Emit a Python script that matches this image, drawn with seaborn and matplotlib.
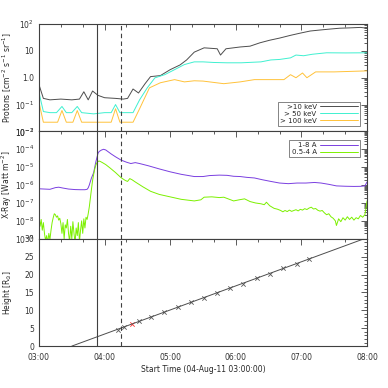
import numpy as np
import pandas as pd
import matplotlib
matplotlib.use('Agg')
import matplotlib.pyplot as plt
import matplotlib.dates as mdates
from matplotlib.ticker import LogLocator, FixedLocator, FixedFormatter, MultipleLocator, NullFormatter
import seaborn as sns

# ---- data (minutes after 04-Aug-11 03:00) ----
p10_min = [0, 4, 10, 20, 30, 37, 41, 45, 49, 54, 60, 70, 77, 81, 86, 91, 97, 102, 111, 120,
           129, 135, 142, 151, 157, 163, 166, 171, 184, 193, 202, 211, 220, 230, 239, 248,
           257, 266, 275, 284, 294, 300]
p10_val = [0.55, 0.17, 0.15, 0.16, 0.15, 0.16, 0.3, 0.15, 0.32, 0.22, 0.18, 0.17, 0.16, 0.17,
           0.38, 0.27, 0.6, 1.1, 1.2, 2.0, 3.0, 4.6, 9, 13, 12.5, 12, 7, 12, 14, 15, 20, 25,
           30, 38, 46, 55, 60, 65, 70, 72, 75, 70]

p50_min = [0, 4, 10, 16, 21, 25, 30, 35, 39, 50, 60, 66, 70, 74, 80, 86, 92, 99, 106, 115,
           124, 133, 142, 150, 160, 172, 185, 203, 212, 220, 230, 235, 242, 250, 263, 280, 300]
p50_val = [0.28, 0.055, 0.05, 0.05, 0.085, 0.05, 0.05, 0.085, 0.05, 0.045, 0.05, 0.05, 0.1,
           0.05, 0.05, 0.05, 0.15, 0.42, 0.99, 1.3, 2.0, 3.1, 3.9, 3.9, 3.7, 3.6, 3.6, 3.9,
           4.6, 4.8, 5.5, 7, 6.6, 7.5, 8.5, 8.4, 8.5]

p100_min = [0, 4, 10, 17, 21, 25, 31, 35, 39, 50, 60, 66, 70, 74, 80, 86, 92, 101, 111, 124,
            133, 142, 150, 169, 184, 197, 206, 224, 230, 235, 241, 245, 253, 270, 300]
p100_val = [0.12, 0.022, 0.022, 0.022, 0.06, 0.022, 0.022, 0.06, 0.022, 0.022, 0.022, 0.022,
            0.07, 0.022, 0.022, 0.022, 0.07, 0.42, 0.65, 0.85, 0.7, 0.77, 0.75, 0.6, 0.7,
            0.85, 0.85, 0.85, 1.3, 1.0, 1.5, 1.0, 1.65, 1.65, 1.8]

long_min = [0, 5, 10, 15, 18, 22, 27, 33, 38, 42, 44, 45, 46, 47, 48, 49, 50, 51, 52, 53, 54,
            55, 57, 59, 61, 63, 66, 70, 75, 80, 84, 88, 92, 100, 110, 120, 130, 142, 150, 156,
            165, 172, 178, 184, 190, 197, 204, 212, 220, 228, 236, 244, 252, 258, 265, 272,
            280, 288, 294, 298, 300]
long_val = [6.2e-7, 6e-7, 5.8e-7, 7.2e-7, 7.6e-7, 6.8e-7, 6e-7, 5.6e-7, 5.5e-7, 5.5e-7,
            5.8e-7, 7e-7, 1e-6, 1.6e-6, 2.5e-6, 3.5e-6, 5e-6, 1e-5, 2e-5, 3.5e-5, 6e-5, 7.5e-5,
            9e-5, 1e-4, 9.2e-5, 7.5e-5, 5.5e-5, 3.8e-5, 2.5e-5, 1.9e-5, 1.6e-5, 1.8e-5, 1.6e-5,
            1.2e-5, 8e-6, 5.5e-6, 4e-6, 3e-6, 3e-6, 3.4e-6, 3.6e-6, 3.5e-6, 3.1e-6, 3e-6,
            2.7e-6, 2.5e-6, 2e-6, 1.6e-6, 1.3e-6, 1.2e-6, 1.3e-6, 1.3e-6, 1.4e-6, 1.3e-6,
            1.1e-6, 9e-7, 8.6e-7, 8.4e-7, 8.5e-7, 9e-7, 1.5e-6]

short_min = list(range(0, 57)) + [58, 61, 65, 70, 75, 79, 81, 83, 85, 88, 95, 102, 110, 120,
            130, 142, 148, 151, 158, 165, 169, 174, 178, 183, 188, 193, 198, 203, 206, 208,
            211, 215, 218, 221, 223, 225, 227, 229, 231, 233, 235, 237, 239, 241, 243, 245,
            247, 249, 251, 253, 255, 257, 259, 261, 263, 265, 267, 269, 271, 272, 274, 276,
            278, 280, 282, 284, 286, 288, 290, 292, 294, 296, 298, 299, 300]
short_val = [1.5e-8, 5e-9, 1.2e-8, 3e-9, 8e-9, 2e-9, 8e-10, 1.5e-9, 6e-10, 2e-9, 9e-10, 3e-9,
             8e-9, 1.5e-8, 2.5e-8, 2.2e-8, 1.6e-8, 1.9e-8, 1.1e-8, 1.4e-8, 7e-9, 2e-9, 8e-9,
             1e-9, 6e-9, 4e-9, 1.2e-8, 2e-9, 7e-10, 5e-9, 1e-9, 9e-9, 2e-9, 6e-10, 4e-9,
             1.5e-9, 8e-9, 7e-10, 3e-9, 1e-8, 2e-9, 1.3e-8, 4e-9, 1.6e-8, 1.2e-8, 2.5e-8, 6e-8,
             2e-7, 6e-7, 1.8e-6, 4e-6, 8e-6, 1.3e-5, 1.8e-5, 2.1e-5, 2.2e-5, 2.1e-5,
             1.8e-5, 1.4e-5, 9e-6, 5e-6, 2.6e-6, 1.8e-6, 1.6e-6, 2.3e-6, 2e-6, 1.5e-6, 8e-7,
             4.5e-7, 3e-7, 2.2e-7, 1.6e-7, 1.3e-7, 1.5e-7, 2.1e-7, 2.2e-7, 2.0e-7, 2.1e-7,
             1.6e-7, 1.3e-7, 1.5e-7, 1.7e-7, 1.2e-7, 1.0e-7, 9e-8, 8e-8, 1.1e-7, 7e-8, 5e-8,
             4.5e-8, 3.8e-8, 3.2e-8, 3.8e-8, 3.3e-8, 4e-8, 3.4e-8, 3.8e-8, 4.2e-8, 3.6e-8,
             4.4e-8, 4e-8, 4.8e-8, 4.3e-8, 5.2e-8, 5.8e-8, 4.6e-8, 4.9e-8, 3.9e-8, 3.5e-8,
             3.8e-8, 2.8e-8, 2.2e-8, 2.5e-8, 1.7e-8, 1.4e-8, 1e-8, 5.5e-9, 1.3e-8, 9e-9,
             1.5e-8, 1.1e-8, 1.7e-8, 1.2e-8, 1.6e-8, 1.1e-8, 1.5e-8, 1.3e-8, 2e-8, 1.6e-8,
             2.2e-8, 5e-8, 1.3e-7]

cme_min = [72, 78, 85, 91, 102, 114, 127, 139, 151, 163, 175, 187, 199, 211, 223, 236, 247]
cme_height = [4.4, 5.2, 6.3, 6.9, 8.1, 9.6, 10.8, 12.3, 13.5, 14.9, 16.3, 17.4, 19.0, 20.2,
              21.7, 23.0, 24.4]
cme_flag = [0, 0, 1, 0, 0, 0, 0, 0, 0, 0, 0, 0, 0, 0, 0, 0, 0]
fit_min = [30, 300]
fit_height = [0.0, 30.3]

event_solid = 53
event_dashed = 75

t0 = pd.Timestamp('2011-08-04 03:00:00')
def tt(m):
    return t0 + pd.to_timedelta(np.asarray(m, dtype=float), unit='m')

sns.set_style('white')
plt.rcParams['font.family'] = ['DejaVu Sans']
fg = '0.25'
fs = 5.5

fig, axs = plt.subplots(3, 1, figsize=(3.88, 3.88), dpi=100, sharex=True)
fig.subplots_adjust(left=0.1005, right=0.946, top=0.938, bottom=0.108, hspace=0)
ax1, ax2, ax3 = axs

# protons
sns.lineplot(x=tt(p10_min), y=p10_val, ax=ax1, color='0.3', lw=0.7, label='>10 keV')
sns.lineplot(x=tt(p50_min), y=p50_val, ax=ax1, color='#3ff0d0', lw=0.7, label='> 50 keV')
sns.lineplot(x=tt(p100_min), y=p100_val, ax=ax1, color='#ffc23a', lw=0.7, label='> 100 keV')
ax1.set_yscale('log')
ax1.set_ylim(1e-2, 1e2)
ax1.yaxis.set_major_locator(FixedLocator([1e-2, 1e-1, 1, 10, 100]))
ax1.yaxis.set_major_formatter(FixedFormatter(['10$^{-2}$', '10$^{-1}$', '1.0', '10', '10$^{2}$']))
ax1.set_ylabel('Protons [cm$^{-2}$ s$^{-1}$ sr$^{-1}$]', fontsize=fs)
leg = ax1.legend(loc='lower right', fontsize=5, markerfirst=False, fancybox=False,
                 handlelength=5.5, borderpad=0.3, labelspacing=0.15, handletextpad=0.5,
                 bbox_to_anchor=(0.99, 0.02))
leg.get_frame().set_edgecolor('0.3')
leg.get_frame().set_linewidth(0.6)
for txt in leg.get_texts():
    txt.set_ha('right')

# x-rays
sns.lineplot(x=tt(long_min), y=long_val, ax=ax2, color='#7a3fe0', lw=0.7, label='1-8 A')
sns.lineplot(x=tt(short_min), y=short_val, ax=ax2, color='#7cf000', lw=0.7, label='0.5-4 A')
ax2.set_yscale('log')
ax2.set_ylim(1e-9, 1e-3)
ax2.yaxis.set_major_locator(FixedLocator([10.0 ** k for k in range(-9, -2)]))
ax2.yaxis.set_major_formatter(FixedFormatter(['10$^{%d}$' % k for k in range(-9, -2)]))
ax2.set_ylabel('X-Ray [Watt m$^{-2}$]', fontsize=fs)
leg2 = ax2.legend(loc='upper right', fontsize=5, markerfirst=False, fancybox=False,
                  handlelength=5.5, borderpad=0.3, labelspacing=0.15, handletextpad=0.5,
                  bbox_to_anchor=(0.99, 0.95))
leg2.get_frame().set_edgecolor('0.3')
leg2.get_frame().set_linewidth(0.6)

# height-time
sns.lineplot(x=tt(fit_min), y=fit_height, ax=ax3, color='0.3', lw=0.7)
cme = pd.DataFrame({'t': tt(cme_min), 'h': cme_height, 'f': cme_flag})
sns.scatterplot(data=cme[cme.f == 0], x='t', y='h', ax=ax3, marker='x', color='0.35',
                s=10, linewidth=0.6)
sns.scatterplot(data=cme[cme.f == 1], x='t', y='h', ax=ax3, marker='x', color='#ff3030',
                s=10, linewidth=0.6)
ax3.set_ylim(0, 30)
ax3.yaxis.set_major_locator(MultipleLocator(5))
ax3.yaxis.set_minor_locator(MultipleLocator(1))
ax3.set_ylabel('Height [R$_{\\odot}$]', fontsize=fs)
ax3.set_xlabel('Start Time (04-Aug-11 03:00:00)', fontsize=fs, labelpad=2)

for ax in axs:
    ax.axvline(tt([event_solid])[0], color=fg, lw=0.8)
    ax.axvline(tt([event_dashed])[0], color=fg, lw=0.8, ls=(0, (4, 3)))
    ax.set_xlim(tt([0])[0], tt([300])[0])
    for s in ax.spines.values():
        s.set_color(fg)
        s.set_linewidth(0.8)
    ax.tick_params(which='both', direction='in', top=True, right=True, colors=fg,
                   labelcolor='0.2', labelsize=fs, width=0.6)
    ax.tick_params(which='major', length=4)
    ax.tick_params(which='minor', length=2)
    ax.yaxis.set_label_coords(-0.075, 0.5)
for ax in (ax1, ax2):
    ax.yaxis.set_minor_locator(LogLocator(base=10, subs=np.arange(2, 10), numticks=30))
    ax.yaxis.set_minor_formatter(NullFormatter())

ax3.xaxis.set_major_locator(mdates.HourLocator())
ax3.xaxis.set_minor_locator(mdates.MinuteLocator(byminute=[20, 40]))
ax3.xaxis.set_major_formatter(mdates.DateFormatter('%H:%M'))
ax3.tick_params(axis='x', pad=5)

fig.savefig('out.png', dpi=100)
